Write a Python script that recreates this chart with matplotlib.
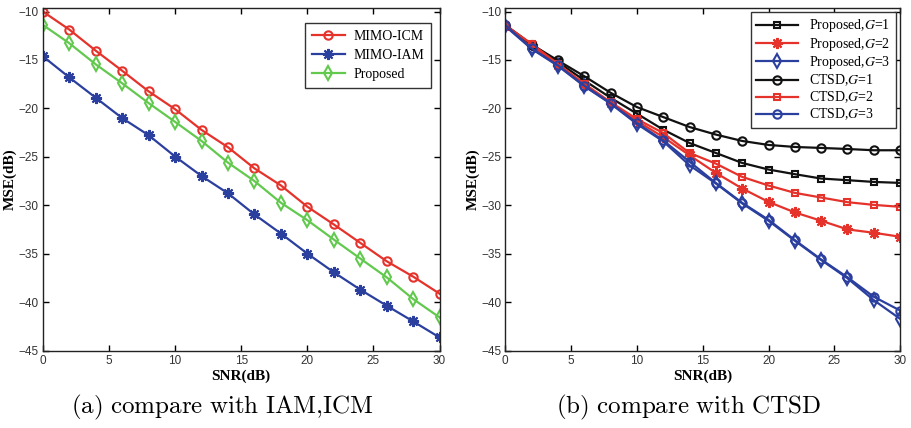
import matplotlib
matplotlib.use("Agg")
import matplotlib.pyplot as plt
from matplotlib.font_manager import FontProperties

# SNR axis shared by both panels
snr = [0, 2, 4, 6, 8, 10, 12, 14, 16, 18, 20, 22, 24, 26, 28, 30]

# (a) compare with IAM, ICM
mimo_icm = [-10.0, -11.86, -14.04, -16.11, -18.24, -20.08, -22.22, -24.01,
            -26.19, -27.95, -30.15, -31.98, -33.88, -35.78, -37.37, -39.13]
mimo_iam = [-14.62, -16.8, -18.9, -21.0, -22.77, -24.97, -26.98, -28.77,
            -30.95, -32.92, -34.99, -36.92, -38.71, -40.37, -41.99, -43.65]
proposed = [-11.38, -13.27, -15.45, -17.41, -19.45, -21.39, -23.36, -25.6,
            -27.5, -29.74, -31.54, -33.54, -35.5, -37.44, -39.68, -41.58]

# (b) compare with CTSD
prop_g1 = [-11.4, -13.4, -15.2, -17.1, -18.9, -20.54, -22.19, -23.57,
           -24.6, -25.63, -26.31, -26.79, -27.24, -27.41, -27.59, -27.69]
prop_g2 = [-11.45, -13.5, -15.5, -17.5, -19.45, -21.3, -22.95, -24.84,
           -26.66, -28.27, -29.65, -30.74, -31.6, -32.49, -32.84, -33.25]
prop_g3 = [-11.5, -13.85, -15.6, -17.7, -19.5, -21.6, -23.4, -25.87,
           -27.75, -29.81, -31.6, -33.66, -35.65, -37.54, -39.8, -41.73]
ctsd_g1 = [-11.4, -13.4, -15.05, -16.67, -18.38, -19.86, -20.89, -21.92,
           -22.7, -23.36, -23.77, -23.98, -24.08, -24.19, -24.32, -24.32]
ctsd_g2 = [-11.4, -13.33, -15.4, -17.45, -19.35, -21.1, -22.54, -24.6,
           -25.7, -27.07, -27.96, -28.72, -29.2, -29.68, -29.96, -30.16]
ctsd_g3 = [-11.4, -13.8, -15.55, -17.65, -19.45, -21.5, -23.3, -25.5,
           -27.7, -29.75, -31.5, -33.6, -35.6, -37.44, -39.45, -40.87]

RED = '#e5322b'
BLUE = '#2b3f9e'
GREEN = '#62c94e'
BLACK = '#111111'
STAR = (8, 2, 0)

serif = 'Liberation Serif'
sans = 'Liberation Sans'
leg_font = FontProperties(family=serif, size=10, math_fontfamily='stix')
cap_font = FontProperties(size=18, math_fontfamily='cm')


def style_axes(ax):
    ax.set_xlim(0, 30)
    ax.set_ylim(-45, -9.6)
    ax.set_xticks([0, 5, 10, 15, 20, 25, 30])
    ax.set_yticks([-45, -40, -35, -30, -25, -20, -15, -10])
    ax.tick_params(direction='in', top=True, right=True, length=4,
                   width=1, labelsize=8.5, labelcolor='#333333', pad=3)
    for lab in ax.get_xticklabels() + ax.get_yticklabels():
        lab.set_family(sans)
    for sp in ax.spines.values():
        sp.set_linewidth(1.0)
        sp.set_color('#222222')
    ax.set_xlabel('SNR(dB)', family=serif, fontweight='bold', fontsize=11,
                  labelpad=2)
    ax.set_ylabel('MSE(dB)', family=serif, fontweight='bold', fontsize=11,
                  labelpad=1)


def line(ax, y, color, marker, label, ms=6):
    ax.plot(snr, y, color=color, marker=marker, markersize=ms,
            markerfacecolor='none', markeredgewidth=1.5, linewidth=1.6,
            label=label)


fig = plt.figure(figsize=(9.12, 4.28), dpi=100)
ax1 = fig.add_axes([0.047, 0.181, 0.435, 0.801])
ax2 = fig.add_axes([0.554, 0.181, 0.433, 0.801])

line(ax1, mimo_icm, RED, 'o', 'MIMO-ICM')
line(ax1, mimo_iam, BLUE, STAR, 'MIMO-IAM', ms=8)
line(ax1, proposed, GREEN, 'd', 'Proposed', ms=7)
style_axes(ax1)
leg = ax1.legend(loc='upper right', prop=leg_font, fancybox=False,
                 edgecolor='#333333', framealpha=1, borderaxespad=0.6,
                 handlelength=2.4, labelspacing=0.45, borderpad=0.5,
                 handletextpad=0.6, bbox_to_anchor=(1.0, 0.98))
leg.get_frame().set_linewidth(1.0)

line(ax2, prop_g1, BLACK, 's', 'Proposed,$G$=1', ms=5)
line(ax2, prop_g2, RED, STAR, 'Proposed,$G$=2', ms=8)
line(ax2, prop_g3, BLUE, 'd', 'Proposed,$G$=3', ms=7)
line(ax2, ctsd_g1, BLACK, 'o', 'CTSD,$G$=1')
line(ax2, ctsd_g2, RED, 's', 'CTSD,$G$=2', ms=5)
line(ax2, ctsd_g3, BLUE, 'o', 'CTSD,$G$=3')
style_axes(ax2)
leg2 = ax2.legend(loc='upper right', prop=leg_font, fancybox=False,
                  edgecolor='#333333', framealpha=1, borderaxespad=0.3,
                  handlelength=3.0, labelspacing=0.1, borderpad=0.4)
leg2.get_frame().set_linewidth(1.0)

fig.text(0.244, 0.035, r'$\mathrm{(a)\ compare\ with\ IAM{,}ICM}$',
         ha='center', fontproperties=cap_font)
fig.text(0.755, 0.035, r'$\mathrm{(b)\ compare\ with\ CTSD}$',
         ha='center', fontproperties=cap_font)

fig.savefig('out.png', dpi=100)
